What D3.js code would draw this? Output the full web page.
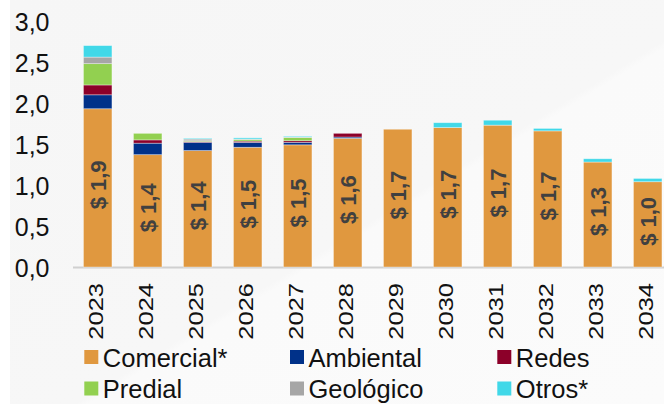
<!DOCTYPE html>
<html><head><meta charset="utf-8">
<script src="https://cdn.jsdelivr.net/npm/d3@7"></script>
<style>
html,body{margin:0;padding:0;background:#fff;}
svg{display:block;font-family:"Liberation Sans",Arial,sans-serif;}
</style></head>
<body>
<svg id="chart" width="664" height="404"></svg>
<script>
const years = ["2023","2024","2025","2026","2027","2028","2029","2030","2031","2032","2033","2034"];
const comercial = [1.93,1.37,1.42,1.46,1.49,1.57,1.68,1.70,1.73,1.66,1.28,1.04];
const ambiental = [0.17,0.14,0.10,0.06,0.03,0.015,0,0,0,0,0,0];
const redes     = [0.12,0.04,0.01,0.015,0.02,0.045,0,0,0,0,0,0];
const predial   = [0.26,0.08,0.01,0.02,0.04,0,0,0,0,0,0,0];
const geologico = [0.08,0,0.02,0.005,0.005,0,0,0,0,0,0,0];
const otros     = [0.14,0,0.01,0.015,0.01,0,0,0.06,0.06,0.03,0.04,0.04];
const barLabels = [1.9,1.4,1.4,1.5,1.5,1.6,1.7,1.7,1.7,1.7,1.3,1.0];
const seriesNames = ["Comercial*","Ambiental","Redes","Predial","Geológico","Otros*"];
const seriesColors = ["#E0983F","#003189","#8C0029","#92D050","#A6A6A6","#41D8E8"];
const yTicks = [0,0.5,1,1.5,2,2.5,3];

const svg = d3.select("#chart");
// background
const defs = svg.append("defs");
const g0 = defs.append("linearGradient").attr("id","bg").attr("x1","0").attr("y1","0").attr("x2","1").attr("y2","1");
g0.append("stop").attr("offset","0").attr("stop-color","#f6f6f6");
g0.append("stop").attr("offset","0.55").attr("stop-color","#f7f7f7");
g0.append("stop").attr("offset","0.56").attr("stop-color","#fafafa");
g0.append("stop").attr("offset","1").attr("stop-color","#fbfbfb");
svg.append("rect").attr("x",0).attr("y",0).attr("width",664).attr("height",404).attr("fill","#ffffff");
svg.append("rect").attr("x",10).attr("y",0).attr("width",654).attr("height",404).attr("fill","url(#bg)");

const locale = d3.formatLocale({decimal:",",thousands:".",grouping:[3],currency:["$",""]});
const fmt = locale.format(".1f");

const x = d3.scaleBand().domain(years).range([72.7,672.7]).paddingInner(0.43).paddingOuter(0.215);
const y = d3.scaleLinear().domain([0,3]).range([267,21]);

const seriesArrays = [comercial,ambiental,redes,predial,geologico,otros];
const table = years.map((yr,i)=>{
  const o = {year:yr};
  seriesNames.forEach((n,k)=>o[n]=seriesArrays[k][i]);
  return o;
});
const stack = d3.stack().keys(seriesNames)(table);

// axis baseline
svg.append("line").attr("x1",73).attr("x2",664).attr("y1",y(0)+0.5).attr("y2",y(0)+0.5)
  .attr("stroke","#d0d0d0").attr("stroke-width",2);

// bars
stack.forEach((s,k)=>{
  svg.append("g").selectAll("rect").data(s.filter(d=>d[1]-d[0]>0)).join("rect")
    .attr("x",d=>x(d.data.year))
    .attr("width",x.bandwidth())
    .attr("y",d=>y(d[1]))
    .attr("height",d=>y(d[0])-y(d[1]))
    .attr("fill",seriesColors[k])
    .attr("stroke","rgba(255,255,255,0.45)").attr("stroke-width",0.8);
});

// bar labels
svg.append("g").selectAll("text").data(years).join("text")
  .attr("transform",(yr,i)=>{
    const cx = x(yr)+x.bandwidth()/2;
    const cy = (y(0)+y(comercial[i]))/2 - 3;
    return `translate(${cx+8},${cy}) rotate(-90)`;
  })
  .attr("text-anchor","middle")
  .attr("font-weight","bold").attr("font-size",22).attr("fill","#404040")
  .text((yr,i)=>"$ "+fmt(barLabels[i]));

// y axis
const yAxis = d3.axisLeft(y).tickValues(yTicks).tickFormat(fmt).tickSize(0).tickPadding(0);
const ya = svg.append("g").attr("transform","translate(49.5,0)").call(yAxis);
ya.select(".domain").remove();
ya.selectAll("text").attr("font-size",25).attr("fill","#111").attr("font-family","Liberation Sans, Arial, sans-serif").attr("dy","0.36em");

// x axis (rotated years)
const xAxis = d3.axisBottom(x).tickSize(0).tickPadding(0);
const xa = svg.append("g").attr("transform",`translate(0,${y(0)})`).call(xAxis);
xa.select(".domain").remove();
xa.selectAll("text")
  .attr("font-size",25.5).attr("fill","#111").attr("font-family","Liberation Sans, Arial, sans-serif")
  .attr("text-anchor","end").attr("dy",null).attr("y",null)
  .attr("transform","translate(5.5,16) rotate(-90) scale(1,0.82)");

// legend
const legItems = seriesNames.map((n,k)=>({name:n,color:seriesColors[k],col:k%3,row:Math.floor(k/3)}));
const colX = [84.3,290,497.3];
const rowY = [366.5,398];
const leg = svg.append("g").selectAll("g").data(legItems).join("g");
leg.append("rect").attr("x",d=>colX[d.col]).attr("y",d=>rowY[d.row]-16.5)
  .attr("width",14).attr("height",14).attr("fill",d=>d.color);
leg.append("text").attr("x",d=>colX[d.col]+18.5).attr("y",d=>rowY[d.row])
  .attr("font-size",25.5).attr("fill","#111").text(d=>d.name);
</script>
</body></html>
